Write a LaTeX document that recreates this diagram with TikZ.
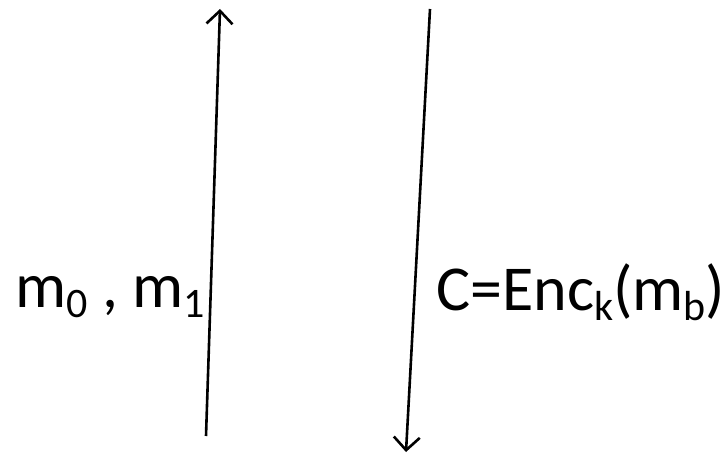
\documentclass[tikz,border=0pt]{standalone}
\usepackage{fontspec}
\setmainfont{Carlito}
\usetikzlibrary{arrows.meta}
\newcommand{\sbs}[1]{\raisebox{-10pt}{\fontsize{42}{42}\selectfont #1}}
\tikzset{
  msgline/.style={line width=2.6pt, -{Straight Barb[length=13pt,width=26pt,line width=2.6pt]}},
  lbl/.style={anchor=base west, inner sep=0pt, font=\fontsize{64}{64}\selectfont}
}
\begin{document}
\begin{tikzpicture}[x=1pt,y=1pt]
\useasboundingbox (0,0) rectangle (725,456);
\coordinate (a1) at (206,20);
\coordinate (a2) at (220,447);
\coordinate (b1) at (430,447);
\coordinate (b2) at (406,4);
\draw[msgline] (a1) -- (a2);
\draw[msgline] (b1) -- (b2);
\node[lbl] (left) at (15,149) {m\sbs{0} , m\sbs{1}};
\node[lbl] (right) at (436,146) {C=Enc\sbs{k}(m\sbs{b})};
\end{tikzpicture}
\end{document}
